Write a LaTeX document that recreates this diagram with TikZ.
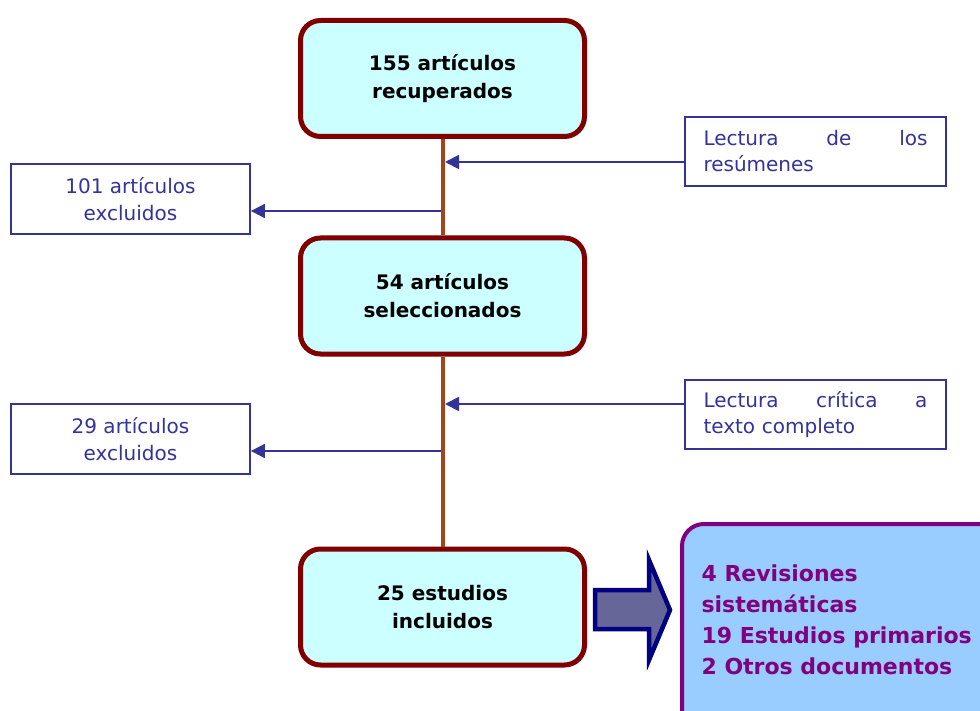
\documentclass[tikz,border=0pt]{standalone}
\usepackage{fontspec}
\setmainfont{DejaVu Sans}
\usetikzlibrary{arrows.meta}
\definecolor{boxfill}{HTML}{CCFFFF}
\definecolor{boxline}{HTML}{800000}
\definecolor{trunk}{HTML}{A0461A}
\definecolor{bluetxt}{HTML}{333399}
\definecolor{resfill}{HTML}{99CCFF}
\definecolor{resline}{HTML}{800080}
\definecolor{bigfill}{HTML}{666699}
\definecolor{bigline}{HTML}{000080}
\tikzset{
  mainbox/.style={draw=boxline, line width=5pt, fill=boxfill, rounded corners=20pt,
    minimum width=284pt, minimum height=116pt, align=center,
    font=\fontsize{20}{28}\selectfont\bfseries, text=black},
  sidebox/.style={draw=bluetxt, line width=1.8pt, fill=white, text=bluetxt,
    minimum width=239pt, minimum height=70pt, align=center,
    font=\fontsize{20}{27}\selectfont},
  notebox/.style={draw=bluetxt, line width=1.8pt, fill=white, text=bluetxt,
    minimum width=261pt, minimum height=69pt, align=left, text width=224pt,
    font=\fontsize{20}{26}\selectfont},
  trunkline/.style={draw=trunk, line width=4pt},
  bluearrow/.style={draw=bluetxt, line width=1.8pt, -{Triangle[length=14pt,width=14pt]}},
}
\begin{document}
\begin{tikzpicture}[x=1pt,y=-1pt]
\clip (0,0) rectangle (980,711);
\fill[white] (0,0) rectangle (980,711);

% main boxes
\node[mainbox] (b1) at (442.5,78.5) {155 artículos\\recuperados};
\node[mainbox] (b2) at (442.5,296) {54 artículos\\seleccionados};
\node[mainbox] (b3) at (442.5,607) {25 estudios\\incluidos};

% trunk lines
\draw[trunkline] (b1.south) -- (b2.north);
\draw[trunkline] (b2.south) -- (b3.north);

% side boxes
\node[notebox] (r1) at (815.5,151.5) {\hbox to 224pt{Lectura\hfill de\hfill los}\\resúmenes};
\node[notebox] (r2) at (815.5,414.5) {\hbox to 224pt{Lectura\hfill crítica\hfill a}\\texto completo};
\node[sidebox] (l1) at (130.5,199) {101 artículos\\excluidos};
\node[sidebox] (l2) at (130.5,439) {29 artículos\\excluidos};

% junction coordinates on the trunk
\coordinate (j1) at (445,162);
\coordinate (j2) at (441,211);
\coordinate (j3) at (445,404);
\coordinate (j4) at (441,451);

\draw[bluearrow] (r1.west |- j1) -- (j1);
\draw[bluearrow] (j2) -- (l1.east |- j2);
\draw[bluearrow] (r2.west |- j3) -- (j3);
\draw[bluearrow] (j4) -- (l2.east |- j4);

% big arrow
\draw[draw=bigline, fill=bigfill, line width=4.5pt, line join=miter]
  (595,590) -- (649,590) -- (649,560) -- (670,610) -- (649,660) -- (649,629) -- (595,629) -- cycle;

% result box
\draw[draw=resline, fill=resfill, line width=4pt, rounded corners=22pt] (682,524) rectangle (1010,740);
\node[anchor=west, text=resline, align=left, font=\fontsize{22}{31}\selectfont\bfseries] (res) at (698,619.5)
  {4 Revisiones\\sistemáticas\\19 Estudios primarios\\2 Otros documentos};
\end{tikzpicture}
\end{document}
